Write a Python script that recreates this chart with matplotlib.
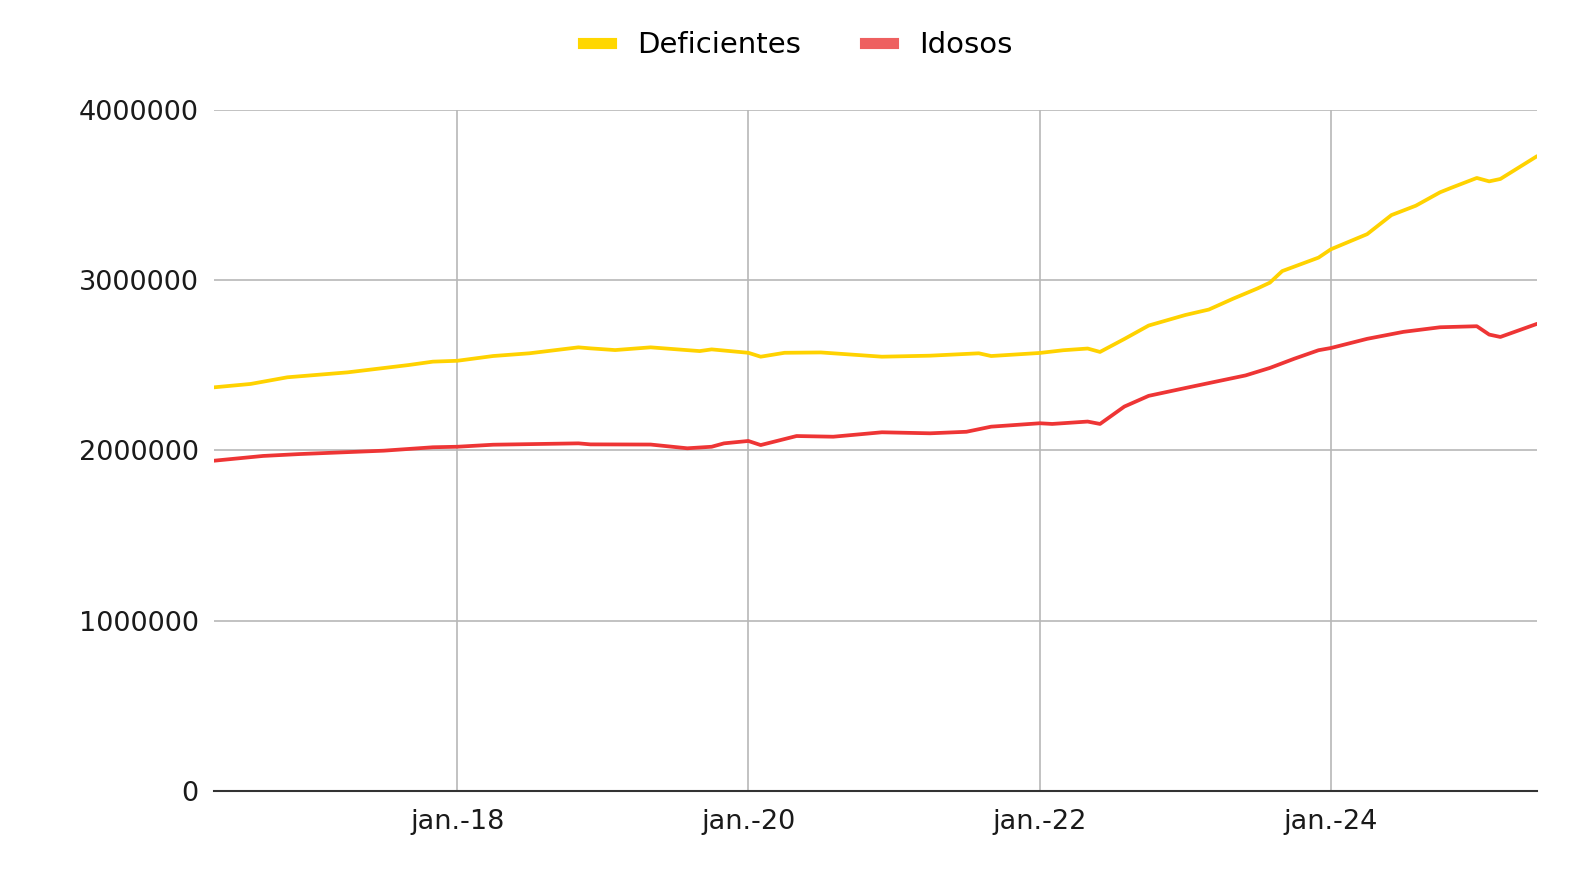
import matplotlib
matplotlib.use("Agg")
import matplotlib.pyplot as plt
from matplotlib.lines import Line2D
import pandas as pd

# values (in people)
def_months = ['2016-05', '2016-08', '2016-11', '2017-04', '2017-09', '2017-11', '2018-01',
              '2018-04', '2018-07', '2018-11', '2018-12', '2019-02', '2019-05', '2019-09',
              '2019-10', '2020-01', '2020-02', '2020-04', '2020-07', '2020-12', '2021-04',
              '2021-08', '2021-09', '2022-01', '2022-03', '2022-05', '2022-06', '2022-08',
              '2022-10', '2023-01', '2023-03', '2023-05', '2023-07', '2023-08', '2023-09',
              '2023-12', '2024-01', '2024-04', '2024-06', '2024-08', '2024-10', '2024-11',
              '2025-01', '2025-02', '2025-03', '2025-06']
deficientes = [2371000, 2391000, 2430000, 2459000, 2502000, 2522000, 2527000,
               2555000, 2571000, 2606000, 2600000, 2590000, 2606000, 2584000,
               2594000, 2574000, 2551000, 2574000, 2576000, 2551000, 2557000,
               2571000, 2555000, 2573000, 2589000, 2599000, 2579000, 2655000,
               2734000, 2796000, 2828000, 2892000, 2952000, 2986000, 3054000,
               3133000, 3182000, 3271000, 3383000, 3438000, 3517000, 3546000,
               3601000, 3581000, 3595000, 3729000]

ido_months = ['2016-05', '2016-09', '2016-12', '2017-07', '2017-11', '2018-01', '2018-04',
              '2018-11', '2018-12', '2019-05', '2019-08', '2019-10', '2019-11', '2020-01',
              '2020-02', '2020-05', '2020-08', '2020-12', '2021-04', '2021-07', '2021-09',
              '2022-01', '2022-02', '2022-05', '2022-06', '2022-08', '2022-10', '2023-01',
              '2023-03', '2023-06', '2023-08', '2023-10', '2023-12', '2024-01', '2024-04',
              '2024-07', '2024-10', '2025-01', '2025-02', '2025-03', '2025-06']
idosos = [1940000, 1968000, 1979000, 1999000, 2019000, 2022000, 2034000,
          2042000, 2036000, 2035000, 2013000, 2022000, 2042000, 2056000,
          2032000, 2085000, 2081000, 2107000, 2101000, 2110000, 2140000,
          2160000, 2156000, 2170000, 2156000, 2258000, 2321000, 2367000,
          2396000, 2441000, 2485000, 2539000, 2589000, 2602000, 2656000,
          2697000, 2724000, 2730000, 2681000, 2667000, 2744000]

y_ticks = [0, 1000000, 2000000, 3000000, 4000000]
x_ticks = ['2018-01', '2020-01', '2022-01', '2024-01']
x_labels = ['jan.-18', 'jan.-20', 'jan.-22', 'jan.-24']

yellow = '#FFD200'
red = '#EE3535'

fig = plt.figure(figsize=(15.7, 8.81), dpi=100)
ax = fig.add_axes([0.1363, 0.1022, 0.8427, 0.7729])

ax.plot(pd.to_datetime(def_months), deficientes, color=yellow, lw=2.7,
        solid_capstyle='round', solid_joinstyle='round')
ax.plot(pd.to_datetime(ido_months), idosos, color=red, lw=2.7,
        solid_capstyle='round', solid_joinstyle='round')

ax.set_xlim(pd.Timestamp('2016-05-01'), pd.Timestamp('2025-06-01'))
ax.set_ylim(0, 4000000)
ax.set_yticks(y_ticks)
ax.set_yticklabels([str(v) for v in y_ticks])
ax.set_xticks(pd.to_datetime(x_ticks))
ax.set_xticklabels(x_labels)

ax.grid(True, color='#b8b8b8', lw=1.2)
ax.set_axisbelow(True)
for s in ['top', 'right', 'left']:
    ax.spines[s].set_visible(False)
ax.spines['bottom'].set_color('#333333')
ax.spines['bottom'].set_linewidth(1.5)
ax.tick_params(length=0, labelsize=19.5, colors='#1a1a1a')
ax.tick_params(axis='y', pad=11)
ax.tick_params(axis='x', pad=13)

handles = [Line2D([], [], color='#FFD700', lw=8),
           Line2D([], [], color='#EE6060', lw=8)]
fig.legend(handles, ['Deficientes', 'Idosos'], loc='center', bbox_to_anchor=(0.508, 0.949),
           ncol=2, frameon=False, fontsize=21, handlelength=0.95, columnspacing=2.2,
           handletextpad=0.9)

fig.savefig('out.png', dpi=100, facecolor='white')
